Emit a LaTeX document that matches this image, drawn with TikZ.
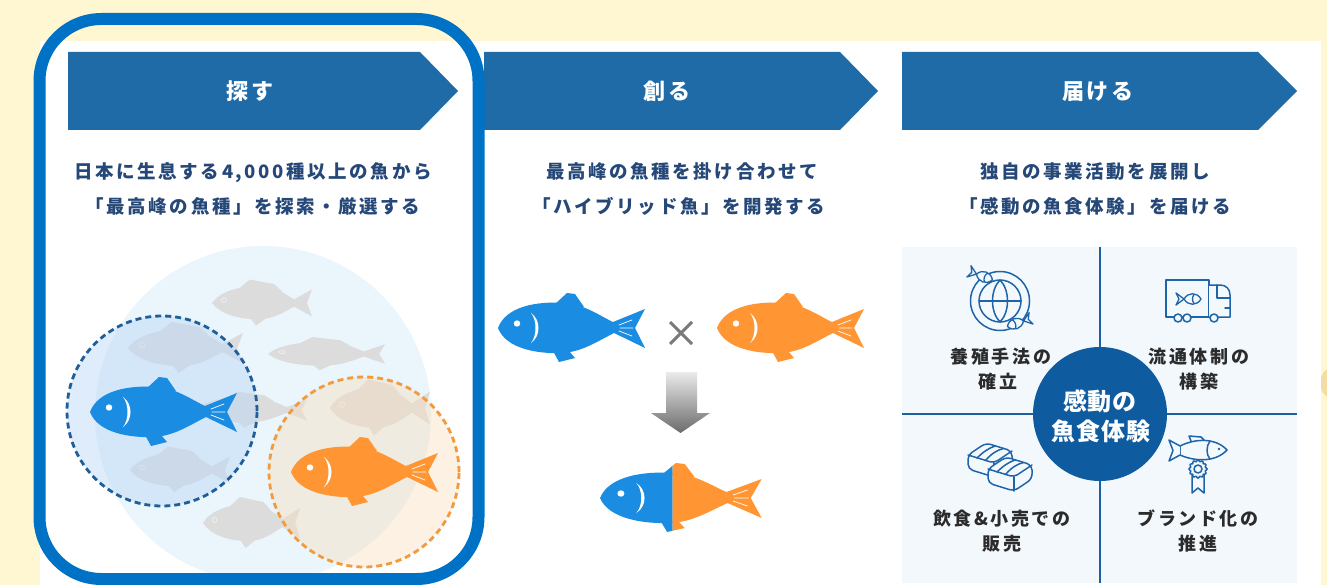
\documentclass[tikz,border=0pt]{standalone}
\usepackage{fontspec}
\newfontfamily\jpdesc[LetterSpace=14]{Noto Sans CJK JP}
\newfontfamily\jphead[LetterSpace=10]{Noto Sans CJK JP}
\newfontfamily\jpcore[LetterSpace=4]{Noto Sans CJK JP}

\definecolor{cream}{HTML}{FFF6D2}
\definecolor{tanblob}{HTML}{F0D595}
\definecolor{headblue}{HTML}{1E6BA8}
\definecolor{frameblue}{HTML}{0072C6}
\definecolor{navy}{HTML}{254878}
\definecolor{fishblue}{HTML}{1A8CE2}
\definecolor{fishorange}{HTML}{FF9633}
\definecolor{poolblue}{HTML}{EAF5FC}
\definecolor{ghost}{HTML}{DCDCDC}
\definecolor{bluehalo}{HTML}{B8D6F7}
\definecolor{orangehalo}{HTML}{F8DDB8}
\definecolor{dashblue}{HTML}{1F5E99}
\definecolor{dashorange}{HTML}{F39A3A}
\definecolor{crossgray}{HTML}{7A7A7A}
\definecolor{quadbg}{HTML}{F3F8FD}
\definecolor{quadline}{HTML}{1D5FA0}
\definecolor{coreblue}{HTML}{0E5BA0}
\definecolor{iconblue}{HTML}{1E64A8}
\definecolor{labelgray}{HTML}{2B2B2B}

\tikzset{
  chevron/.style={fill=headblue},
  headtxt/.style={text=white, inner sep=0pt, text height=16.7pt, text depth=0pt,
    font=\jphead\bfseries\fontsize{22}{26}\selectfont},
  desctxt/.style={text=navy, inner sep=0pt, text height=14pt, text depth=0pt,
    font=\jpdesc\bfseries\fontsize{18.5}{22}\selectfont},
  quadtxt/.style={text=labelgray, inner sep=0pt, text height=13.7pt, text depth=0pt,
    font=\jpdesc\bfseries\fontsize{18}{22}\selectfont},
  coretxt/.style={text=white, inner sep=0pt, text height=18.2pt, text depth=0pt,
    font=\jpcore\bfseries\fontsize{24}{28}\selectfont},
  dashring/.style={line width=2.8pt, dash pattern=on 6pt off 4pt},
  icon/.style={draw=iconblue, line width=1.5pt, line join=round, line cap=round},
  % solid fish, nose at the origin, 147 units long
  pics/fish/.style={code={
    \fill[#1] (0,0) .. controls (8,-22) and (40,-27) .. (66,-25)
      .. controls (86,-24) and (102,-12) .. (115,-6) -- (147,-19) -- (137,0)
      -- (147,20) -- (116,5) .. controls (100,13) and (84,24) .. (64,25)
      .. controls (40,26) and (8,21) .. (0,0) -- cycle;
    \fill[#1] (56,-23) -- (69,-35) -- (77,-34) -- (86,-21) -- cycle;
    \fill[#1] (55,23) -- (61,34) -- (77,30) -- (71,23) -- cycle;
    \fill[white] (19,-4.5) circle[radius=3.2pt];
    \fill[white] (33,-15) .. controls (43,-8) and (43,8) .. (33,15)
      .. controls (39,8) and (39,-8) .. (33,-15) -- cycle;
    \draw[white, line width=.7pt, line cap=round]
      (121,-3) -- (134,-8) (122,0) -- (135,0) (121,3) -- (134,8);
  }},
  % faded silhouette used in the background school
  pics/ghostfish/.style={code={
    \fill[ghost] (0,0) .. controls (8,-13) and (28,-19) .. (48,-19)
      .. controls (64,-19) and (74,-9) .. (82,-4) -- (100,-15) -- (95,0)
      -- (100,15) -- (82,4) .. controls (72,10) and (62,18) .. (46,18)
      .. controls (26,18) and (8,12) .. (0,0) -- cycle;
    \fill[ghost] (28,-17) -- (38,-26) -- (62,-21) -- (70,-13) -- cycle;
    \fill[ghost] (38,16) -- (44,25) -- (54,17) -- cycle;
    \draw[white!55!ghost, line width=.8pt] (12,-3) circle[radius=2.5pt];
  }},
  % small outlined fish for the icons, tail at the origin
  pics/minifish/.style={code={
    \draw[icon, fill=quadbg, line width=1.3pt] (9,0) .. controls (13,-7) and (22,-7) .. (26,0)
      .. controls (22,7) and (13,7) .. (9,0) -- cycle;
    \draw[icon, fill=quadbg, line width=1.3pt] (9,0) -- (1,-6) -- (4,0) -- (1,6) -- cycle;
    \draw[icon, line width=1.3pt] (19,-4.5) .. controls (17,-2) and (17,2) .. (19,4.5);
  }},
  % one piece of nigiri
  pics/nigiri/.style={code={
    \draw[icon, fill=quadbg, rounded corners=5pt]
      (0,14) -- (18,2) -- (44,10) -- (44,24) -- (26,36) -- (0,28) -- cycle;
    \draw[icon, rounded corners=4pt] (0,14) -- (26,22) -- (44,10);
    \draw[icon] (26,22) -- (26,36);
    \draw[icon] (9,17) .. controls (15,11) and (21,7) .. (27,5);
    \draw[icon] (17.5,19.5) .. controls (23,13) and (29,9) .. (35.5,7.5);
  }},
}

\begin{document}
\begin{tikzpicture}[x=1pt, y=-1pt]
\useasboundingbox (0,0) rectangle (1327,585);
\fill[cream] (0,0) rectangle (1327,585);
\fill[tanblob, opacity=.75] (1342,383) ellipse [x radius=22pt, y radius=19pt];
\fill[white] (40,41) rectangle (1321,585);

% ---- step headers
\fill[chevron] (68,52) -- (420,52) -- (458,91) -- (420,130) -- (68,130) -- cycle;
\fill[chevron] (484,52) -- (840,52) -- (878,91) -- (840,130) -- (484,130) -- cycle;
\fill[chevron] (902,52) -- (1258,52) -- (1297,91) -- (1258,130) -- (902,130) -- cycle;
\node[headtxt] (h1) at (250,91) {探す};
\node[headtxt] (h2) at (667,91) {創る};
\node[headtxt] (h3) at (1098,91) {届ける};

% ---- step descriptions
\node[desctxt] (d1a) at (253,171.5) {日本に生息する4,000種以上の魚から};
\node[desctxt] (d1b) at (253,206.5) {「最高峰の魚種」を探索・厳選する};
\node[desctxt] (d2a) at (682,171.5) {最高峰の魚種を掛け合わせて};
\node[desctxt] (d2b) at (679,206.5) {「ハイブリッド魚」を開発する};
\node[desctxt] (d3a) at (1095,171.5) {独自の事業活動を展開し};
\node[desctxt] (d3b) at (1095,206.5) {「感動の魚食体験」を届ける};

% ---- step 1: searching the school
\fill[poolblue] (263,414) circle[radius=168pt];
\pic[yscale=.9] at (212,303) {ghostfish};
\pic[xscale=1.15] at (128,348) {ghostfish};
\pic[xscale=1.17, yscale=.65] at (268,354) {ghostfish};
\pic[xscale=1.12, yscale=.7] at (195,410) {ghostfish};
\pic[yscale=1.1] at (330,408) {ghostfish};
\pic[yscale=.9] at (130,470) {ghostfish};
\pic[xscale=.97] at (203,523) {ghostfish};
\fill[bluehalo, opacity=.45] (162,411) circle[radius=95pt];
\fill[orangehalo, opacity=.4] (364,472) circle[radius=95pt];
\draw[dashblue, dashring] (162,411) circle[radius=95pt];
\draw[dashorange, dashring] (364,472) circle[radius=95pt];
\pic at (90,412) {fish=fishblue};
\pic at (291,472) {fish=fishorange};

% ---- step 2: crossing into a hybrid
\pic at (498,328) {fish=fishblue};
\pic at (717,328) {fish=fishorange};
\draw[crossgray, line width=3pt] (670,322) -- (692,344) (692,322) -- (670,344);
\shade[top color=white!92!black, bottom color=white!42!black]
  (666,372) -- (697,372) -- (697,413) -- (710,413) -- (680.5,433) -- (651,413) -- (666,413) -- cycle;
\begin{scope}
  \clip (590,450) rectangle (672.7,545);
  \pic[xscale=1.1] at (600,498) {fish=fishblue};
\end{scope}
\begin{scope}
  \clip (672.7,450) rectangle (780,545);
  \pic[xscale=1.1] at (600,498) {fish=fishorange};
\end{scope}

% ---- step 3: four activities around the core
\fill[quadbg] (902,247) rectangle (1297,583);
\draw[quadline, line width=2pt] (1100,247) -- (1100,583) (902,414) -- (1297,414);
\node[circle, fill=coreblue, minimum size=134pt, inner sep=0pt] (core) at (1100,414) {};
\node[coretxt] (core1) at (1100,401) {感動の};
\node[coretxt] (core2) at (1101,431) {魚食体験};

\node[quadtxt] (q1a) at (1001,356.5) {養殖手法の};
\node[quadtxt] (q1b) at (998,381.5) {確立};
\node[quadtxt] (q2a) at (1199,356.5) {流通体制の};
\node[quadtxt] (q2b) at (1199,381.5) {構築};
\node[quadtxt] (q3a) at (1002,518.5) {飲食\&小売での};
\node[quadtxt] (q3b) at (1002,544) {販売};
\node[quadtxt] (q4a) at (1198,518.5) {ブランド化の};
\node[quadtxt] (q4b) at (1198,544) {推進};

% aquaculture: globe ringed by two fish
\draw[icon] (1000,301) circle[radius=29.5pt];
\draw[icon] (1000,301) circle[radius=21pt];
\draw[icon] (979,301) -- (1021,301);
\draw[icon] (1000,280) .. controls (990,290) and (990,312) .. (1000,322)
  .. controls (1010,312) and (1010,290) .. (1000,280);
\pic[rotate=-20] at (968,271) {minifish};
\pic[rotate=19, xscale=-1] at (1032,318) {minifish};

% distribution: delivery truck
\draw[icon, fill=quadbg] (1166,280) rectangle (1209,317);
\draw[icon, fill=quadbg] (1209,285) -- (1220,285) .. controls (1226,285) and (1230,289) .. (1230,295)
  -- (1230,317) -- (1209,317);
\draw[icon] (1217,285) -- (1217,298) -- (1230,298);
\draw[icon] (1225,308) -- (1230,308);
\draw[icon, fill=quadbg] (1178,318) circle[radius=4pt];
\draw[icon, fill=quadbg] (1187,318) circle[radius=4pt];
\draw[icon, fill=quadbg] (1214,318) circle[radius=4pt];
\pic at (1175,299) {minifish};

% restaurants and retail: sushi
\pic at (968,441) {nigiri};
\pic at (988,455) {nigiri};

% branding: fish with a rosette
\draw[icon, fill=quadbg] (1180,446) .. controls (1196,438) and (1216,438) .. (1227,450)
  .. controls (1216,462) and (1196,462) .. (1180,455) -- cycle;
\draw[icon, fill=quadbg] (1180,446) -- (1169,440) -- (1173,450.5) -- (1169,461) -- (1180,455);
\draw[icon] (1191,441) -- (1189,436) -- (1201,437) -- (1204,440);
\draw[icon] (1210,441) .. controls (1206,446) and (1206,455) .. (1210,459);
\fill[iconblue] (1219,449) circle[radius=1.3pt];
\draw[icon, fill=quadbg] (1192,474) -- (1192,493) -- (1198,488) -- (1204,493) -- (1204,474);
\draw[icon, fill=quadbg] plot[domain=0:355, samples=72, smooth cycle]
  ({1198+(8.3+0.8*cos(12*\x))*cos(\x)}, {469+(8.3+0.8*cos(12*\x))*sin(\x)});
\draw[icon] (1198,469) circle[radius=4pt];

% ---- highlight frame around step 1
\draw[frameblue, line width=12pt, rounded corners=62pt] (39.5,19) rectangle (478.5,579);
\end{tikzpicture}
\end{document}
